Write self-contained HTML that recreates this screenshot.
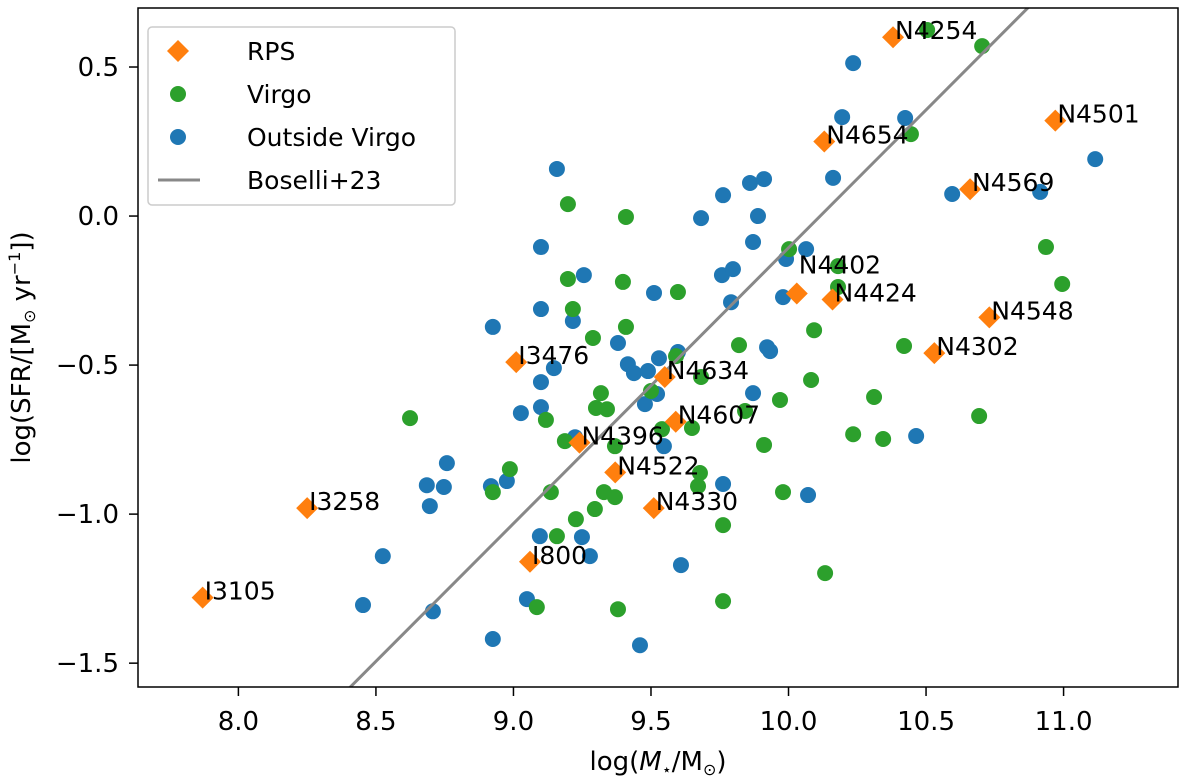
<!DOCTYPE html>
<html><head><meta charset="utf-8"><style>
html,body{margin:0;padding:0;background:#fff;}
svg text{font-family:"DejaVu Sans","Liberation Sans",sans-serif;}
</style></head><body>
<svg id="chart" width="1200" height="777" xmlns="http://www.w3.org/2000/svg"></svg>
<script>
const rpsNames=["N4254","N4501","N4654","N4569","N4402","N4424","N4548","N4302","I3476","N4634","N4607","N4396","N4522","N4330","I3258","I800","I3105"];
const rpsX=[10.38,10.97,10.13,10.66,10.03,10.16,10.73,10.53,9.01,9.55,9.59,9.24,9.37,9.51,8.25,9.06,7.87];
const rpsY=[0.60,0.32,0.25,0.09,-0.26,-0.28,-0.34,-0.46,-0.49,-0.54,-0.69,-0.76,-0.86,-0.98,-0.98,-1.16,-1.28];
const outX=[9.158,9.100,9.256,9.100,9.216,8.925,9.380,9.511,9.682,9.762,9.860,9.911,9.889,9.871,9.758,9.798,9.791,9.991,9.980,9.529,9.598,9.416,9.438,9.489,9.147,9.100,9.100,9.027,9.871,9.922,9.933,9.522,9.478,9.547,8.758,8.685,8.747,8.696,8.918,8.976,9.762,8.525,8.453,8.707,9.096,9.249,9.278,9.609,9.049,8.925,9.460,10.235,10.195,10.424,10.162,10.595,10.915,11.115,10.064,10.464,10.071,9.224];
const outY=[0.158,-0.104,-0.198,-0.312,-0.352,-0.372,-0.426,-0.258,-0.007,0.070,0.111,0.124,0.0,-0.087,-0.198,-0.178,-0.289,-0.144,-0.272,-0.477,-0.456,-0.497,-0.527,-0.520,-0.510,-0.557,-0.641,-0.661,-0.594,-0.440,-0.453,-0.597,-0.631,-0.772,-0.829,-0.903,-0.909,-0.973,-0.906,-0.889,-0.899,-1.141,-1.305,-1.326,-1.074,-1.077,-1.141,-1.171,-1.285,-1.419,-1.440,0.513,0.332,0.329,0.128,0.074,0.081,0.191,-0.111,-0.738,-0.936,-0.742];
const virX=[9.198,9.409,9.198,9.398,9.598,9.216,9.409,9.289,9.820,10.002,9.591,9.682,9.500,9.318,9.300,9.340,9.118,8.624,9.969,9.842,9.649,9.540,9.911,9.369,9.187,8.987,8.925,9.136,9.227,9.296,9.329,9.369,9.158,9.678,9.671,9.762,9.980,9.762,9.380,9.085,10.504,10.704,10.445,10.936,10.995,10.180,10.180,10.093,10.420,10.082,10.311,10.693,10.235,10.344,10.133];
const virY=[0.040,-0.003,-0.211,-0.221,-0.255,-0.312,-0.372,-0.409,-0.433,-0.111,-0.470,-0.540,-0.587,-0.594,-0.644,-0.648,-0.684,-0.678,-0.617,-0.654,-0.711,-0.715,-0.768,-0.772,-0.755,-0.849,-0.926,-0.926,-1.017,-0.983,-0.926,-0.943,-1.074,-0.862,-0.906,-1.037,-0.926,-1.292,-1.319,-1.312,0.624,0.570,0.275,-0.104,-0.228,-0.168,-0.238,-0.383,-0.436,-0.550,-0.607,-0.671,-0.732,-0.748,-1.198];
const xTicks=[8.0,8.5,9.0,9.5,10.0,10.5,11.0];
const xTickLabels=["8.0","8.5","9.0","9.5","10.0","10.5","11.0"];
const yTicks=[0.5,0.0,-0.5,-1.0,-1.5];
const yTickLabels=["0.5","0.0","\u22120.5","\u22121.0","\u22121.5"];
const lineX=[8.0,11.5];
const lineSlope=0.925, lineX0=8.407, lineY0=-1.58;

const L=138,R=1178,T=8,B=687;
const xmin=7.635,xmax=11.416,ymin=-1.58,ymax=0.698;
const sx=v=>L+(v-xmin)/(xmax-xmin)*(R-L);
const sy=v=>B-(v-ymin)/(ymax-ymin)*(B-T);
const svg=document.getElementById('chart');
const NS='http://www.w3.org/2000/svg';
function mk(tag,attrs,parent){const e=document.createElementNS(NS,tag);for(const k in attrs)e.setAttribute(k,attrs[k]);(parent||svg).appendChild(e);return e;}

const clip=mk('clipPath',{id:'plotclip'});mk('rect',{x:L,y:T,width:R-L,height:B-T},clip);
const plot=mk('g',{'clip-path':'url(#plotclip)'});



outX.forEach((v,i)=>{const c=mk('circle',{cx:sx(v),cy:sy(outY[i]),r:8,fill:'#1f77b4'},plot);

});
virX.forEach((v,i)=>{const c=mk('circle',{cx:sx(v),cy:sy(virY[i]),r:8,fill:'#2ca02c'},plot);

});
const ln=mk('line',{x1:sx(lineX[0]),y1:sy(lineY0+lineSlope*(lineX[0]-lineX0)),x2:sx(lineX[1]),y2:sy(lineY0+lineSlope*(lineX[1]-lineX0)),stroke:'#888',"stroke-width":3},plot);


const dyOff={"N4402":-22};
rpsX.forEach((v,i)=>{const x=sx(v),y=sy(rpsY[i]);const d=11;
const p=mk('polygon',{points:`${x},${y-d} ${x+d},${y} ${x},${y+d} ${x-d},${y}`,fill:'#ff7f0e'},plot);


const t=mk('text',{x:x+2,y:y+2+(dyOff[rpsNames[i]]||0),'font-size':25,fill:'#000'});
t.textContent=rpsNames[i];

});

const frame=mk('rect',{x:L,y:T,width:R-L,height:B-T,fill:'none',stroke:'#000','stroke-width':1.5});



xTicks.forEach((v,i)=>{const x=sx(v);mk('line',{x1:x,x2:x,y1:B,y2:B+9,stroke:'#000','stroke-width':1.5});
const t=mk('text',{x:x,y:B+43,'font-size':26,'text-anchor':'middle'});t.textContent=xTickLabels[i];

});
yTicks.forEach((v,i)=>{const y=sy(v);mk('line',{x1:L-9,x2:L,y1:y,y2:y,stroke:'#000','stroke-width':1.5});
const t=mk('text',{x:L-19,y:y+9,'font-size':26,'text-anchor':'end'});t.textContent=yTickLabels[i];

});

const xl=mk('text',{x:(L+R)/2,y:770,'font-size':26,'text-anchor':'middle'});
xl.innerHTML='log(<tspan font-style="italic">M</tspan><tspan font-size="16" dy="5">\u22c6</tspan><tspan dy="-5">/M</tspan><tspan font-size="16" dy="5">\u2299</tspan><tspan dy="-5">)</tspan>';


const yl=mk('text',{x:0,y:0,'font-size':26,'text-anchor':'middle',transform:`translate(30,${(T+B)/2}) rotate(-90)`});
yl.innerHTML='log(SFR/[M<tspan font-size="16" dy="5">\u2299</tspan><tspan dy="-5"> yr</tspan><tspan font-size="16" dy="-10">\u22121</tspan><tspan dy="10">])</tspan>';



const lg=mk('g',{});


mk('rect',{x:148,y:27,width:307,height:178,rx:4,fill:'#fff',stroke:'#ccc','stroke-width':1.5},lg);
const entries=[["RPS","d"],["Virgo","g"],["Outside Virgo","b"],["Boselli+23","l"]];
entries.forEach((e,i)=>{const y=51+i*43;const g=mk('g',{},lg);


if(e[1]==='d')mk('polygon',{points:`178,${y-11} 189,${y} 178,${y+11} 167,${y}`,fill:'#ff7f0e'},g);
if(e[1]==='g')mk('circle',{cx:178,cy:y,r:8,fill:'#2ca02c'},g);
if(e[1]==='b')mk('circle',{cx:178,cy:y,r:8,fill:'#1f77b4'},g);
if(e[1]==='l')mk('line',{x1:158,x2:200,y1:y,y2:y,stroke:'#888','stroke-width':3},g);
const t=mk('text',{x:247,y:y+9,'font-size':25},g);t.textContent=e[0];});
</script>
</body></html>
